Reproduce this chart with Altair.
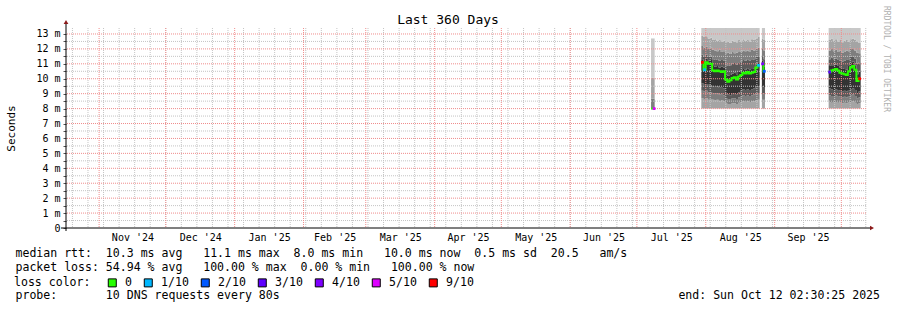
import altair as alt
import numpy as np
import pandas as pd

MONO = "DejaVu Sans Mono"

# ---------------- time window ----------------
range_start = "2024-10-17T02:30:25"
range_end = "2025-10-12T02:30:25"

# ---------------- measured runs ----------------
# S: short burst in early July
S_span = ["2025-07-07T09:00", "2025-07-09T00:00"]
S_median = [8.0, 8.0, 8.0]
S_loss = ["0", "0", "5/10"]
S_p2 = [8.0, 8.0, 8.0]
S_p3 = [8.0, 8.0, 8.0]
S_p4 = [8.0, 8.0, 8.0]
S_p5 = [8.0, 8.0, 8.0]
S_p6 = [8.0, 8.0, 8.0]
S_p7 = [8.0, 8.0, 8.0]
S_p8 = [8.67, 8.67, 8.67]
S_p9 = [10.07, 10.07, 10.07]
S_p10 = [12.7, 12.7, 12.7]

# A: end of July -> late August
A_span = ["2025-07-30T00:00", "2025-08-25T06:00"]
A_median = [11.1, 10.6, 11.1, 11.0, 11.0, 10.55, 10.5, 10.55, 10.5, 10.45, 10.5, 9.95, 9.8, 9.9,
            10.05, 10.1, 9.95, 10.15, 10.25, 10.4, 10.35, 10.45, 10.35, 10.4, 10.45, 10.75, 10.9]
A_loss = ["9/10", "1/10", "0", "0", "0", "0", "0", "0", "0", "0", "0", "0", "0", "0",
          "0", "0", "0", "0", "0", "0", "0", "0", "0", "0", "0", "0", "1/10"]
A_p2 = [8.0] * 27
A_p3 = [8.7, 8.65, 8.7, 8.6, 8.65, 8.6, 8.55, 8.6, 8.5, 8.55, 8.5, 8.35, 8.3, 8.3,
        8.35, 8.35, 8.3, 8.4, 8.45, 8.5, 8.45, 8.5, 8.45, 8.5, 8.5, 8.55, 8.6]
A_p4 = [9.2, 9.15, 9.2, 9.1, 9.1, 9.05, 9.0, 9.05, 8.95, 9.0, 8.9, 8.7, 8.65, 8.6,
        8.7, 8.7, 8.65, 8.75, 8.8, 8.9, 8.85, 8.9, 8.85, 8.9, 8.95, 9.0, 9.05]
A_p5 = [9.7, 9.6, 9.65, 9.6, 9.55, 9.5, 9.45, 9.5, 9.4, 9.45, 9.35, 9.0, 8.95, 8.9,
        9.0, 9.05, 8.95, 9.1, 9.2, 9.3, 9.25, 9.3, 9.25, 9.3, 9.35, 9.45, 9.5]
A_p6 = [11.3, 11.0, 11.35, 11.2, 11.25, 10.85, 10.8, 10.85, 10.75, 10.8, 10.75, 10.3, 10.2, 10.25,
        10.35, 10.4, 10.3, 10.45, 10.55, 10.65, 10.6, 10.7, 10.6, 10.65, 10.7, 11.0, 11.1]
A_p7 = [11.6, 11.5, 11.6, 11.5, 11.55, 11.3, 11.25, 11.3, 11.2, 11.25, 11.2, 10.9, 10.85, 10.9,
        11.0, 11.05, 10.95, 11.1, 11.15, 11.25, 11.2, 11.3, 11.2, 11.25, 11.3, 11.45, 11.5]
A_p8 = [12.2, 12.1, 12.15, 12.0, 12.1, 11.95, 11.9, 11.85, 11.95, 11.8, 11.85, 11.7, 11.75, 11.65,
        11.8, 11.7, 11.75, 11.85, 11.8, 11.9, 11.85, 11.9, 11.8, 11.95, 11.9, 12.0, 12.1]
A_p9 = [12.9, 12.8, 12.85, 12.7, 12.75, 12.6, 12.65, 12.55, 12.6, 12.5, 12.55, 12.45, 12.5, 12.4,
        12.55, 12.5, 12.45, 12.6, 12.5, 12.65, 12.55, 12.6, 12.5, 12.65, 12.6, 12.7, 12.8]
A_p10 = [14.0] * 27

# B: short run end of August
B_span = ["2025-08-26T06:00", "2025-08-27T16:00"]
B_median = [11.0, 10.5]
B_loss = ["4/10", "2/10"]
B_p2 = [8.0, 8.0]
B_p3 = [8.6, 8.6]
B_p4 = [9.05, 9.0]
B_p5 = [9.5, 9.45]
B_p6 = [11.2, 10.8]
B_p7 = [11.45, 11.3]
B_p8 = [12.0, 11.9]
B_p9 = [12.7, 12.6]
B_p10 = [14.0, 14.0]

# C: end of September -> October
C_span = ["2025-09-25T07:00", "2025-10-09T17:00"]
C_median = [10.45, 10.55, 10.6, 10.65, 10.55, 10.4, 10.35, 10.3, 10.25, 10.5, 10.75, 10.85, 10.6, 9.85, 10.0]
C_loss = ["3/10", "0", "0", "0", "0", "0", "0", "0", "0", "0", "0", "0", "0", "0", "9/10"]
C_p2 = [8.0] * 15
C_p3 = [8.45, 8.4, 8.45, 8.45, 8.4, 8.45, 8.35, 8.4, 8.35, 8.45, 8.45, 8.5, 8.4, 8.3, 8.35]
C_p4 = [8.9, 8.85, 8.85, 8.9, 8.8, 8.85, 8.75, 8.8, 8.75, 8.85, 8.9, 8.95, 8.85, 8.7, 8.75]
C_p5 = [9.35, 9.3, 9.25, 9.3, 9.2, 9.25, 9.15, 9.2, 9.15, 9.25, 9.3, 9.35, 9.25, 9.05, 9.15]
C_p6 = [10.85, 10.9, 10.9, 10.95, 10.85, 10.75, 10.7, 10.65, 10.6, 10.85, 11.05, 11.15, 10.9, 10.3, 10.5]
C_p7 = [11.3, 11.4, 11.3, 11.35, 11.25, 11.2, 11.15, 11.2, 11.25, 11.3, 11.45, 11.5, 11.35, 11.0, 11.1]
C_p8 = [11.9, 12.0, 11.85, 11.95, 11.8, 11.9, 11.75, 11.8, 11.9, 11.85, 12.0, 12.05, 11.9, 11.75, 11.7]
C_p9 = [12.6, 12.7, 12.55, 12.65, 12.5, 12.6, 12.45, 12.55, 12.6, 12.5, 12.65, 12.7, 12.6, 12.5, 12.4]
C_p10 = [14.0] * 15

# smoke band greys (between consecutive sorted pings)
band_names = ["b1", "b2", "b3", "b4", "b5", "b6", "b7", "b8"]
band_colors = ["#a4a4a4", "#7e7e7e", "#5a5a5a", "#333333", "#5a5a5a", "#7e7e7e", "#a4a4a4", "#c8c8c8"]

# loss colours
loss_labels = ["0", "1/10", "2/10", "3/10", "4/10", "5/10", "9/10"]
loss_colors = ["#26ff00", "#00b8ff", "#0059ff", "#5e00ff", "#7e00ff", "#dd00ff", "#ff0000"]

# y ticks
y_major = [1, 2, 3, 4, 5, 6, 7, 8, 9, 10, 11, 12, 13]
y_minor = [0.5, 1.5, 2.5, 3.5, 4.5, 5.5, 6.5, 7.5, 8.5, 9.5, 10.5, 11.5, 12.5]
y_ticks = [0, 0.5, 1, 1.5, 2, 2.5, 3, 3.5, 4, 4.5, 5, 5.5, 6, 6.5, 7, 7.5, 8, 8.5, 9, 9.5,
           10, 10.5, 11, 11.5, 12, 12.5, 13]

# legend texts
stats_line1 = "median rtt:  10.3 ms avg   11.1 ms max  8.0 ms min   10.0 ms now  0.5 ms sd  20.5   am/s"
stats_line2 = "packet loss: 54.94 % avg   100.00 % max  0.00 % min   100.00 % now"
probe_line = "probe:       10 DNS requests every 80s"
end_text = "end: Sun Oct 12 02:30:25 2025"
title_text = "Last 360 Days"
watermark = "RRDTOOL / TOBI OETIKER"

# ---------------- build tables ----------------
def ms(s):
    return pd.Timestamp(s, tz="UTC").value // 1_000_000

blocks = {
    "S": (S_span, S_median, S_loss, [S_p2, S_p3, S_p4, S_p5, S_p6, S_p7, S_p8, S_p9, S_p10]),
    "A": (A_span, A_median, A_loss, [A_p2, A_p3, A_p4, A_p5, A_p6, A_p7, A_p8, A_p9, A_p10]),
    "B": (B_span, B_median, B_loss, [B_p2, B_p3, B_p4, B_p5, B_p6, B_p7, B_p8, B_p9, B_p10]),
    "C": (C_span, C_median, C_loss, [C_p2, C_p3, C_p4, C_p5, C_p6, C_p7, C_p8, C_p9, C_p10]),
}

band_rows, line_rows, loss_rows = [], [], []
for seg, (span, med, loss, P) in blocks.items():
    n = len(med)
    edges = np.linspace(ms(span[0]), ms(span[1]), n + 1)
    for i in range(n + 1):
        j = min(i, n - 1)
        for k in range(8):
            band_rows.append({"t": edges[i], "lo": P[k][j], "hi": P[k + 1][j],
                              "band": band_names[k], "seg": seg + band_names[k]})
        line_rows.append({"t": edges[i], "m": med[j], "seg": seg})
    for i in range(n):
        if loss[i] != "0":
            loss_rows.append({"t": (edges[i] + edges[i + 1]) / 2, "m": med[i], "loss": loss[i]})

bands_df = pd.DataFrame(band_rows)
line_df = pd.DataFrame(line_rows)
loss_df = pd.DataFrame(loss_rows)

weeks = pd.date_range("2024-10-20", "2025-10-12", freq="7D", tz="UTC")
months = pd.date_range("2024-11-01", "2025-10-01", freq="MS", tz="UTC")
week_df = pd.DataFrame({"t": [w.value // 1_000_000 for w in weeks]})
month_df = pd.DataFrame({"t": [m.value // 1_000_000 for m in months]})
mid_month = [((months[i].value + months[i + 1].value) // 2) // 1_000_000 for i in range(len(months) - 1)]

xscale = alt.Scale(type="utc", domain=[ms(range_start), ms(range_end)])
yscale = alt.Scale(domain=[0, 13.4], nice=False, zero=False)

x_axis = alt.Axis(values=mid_month, labelExpr="utcFormat(datum.value, \"%b '%y\")",
                  grid=False, domain=False, ticks=False, labelFont=MONO, labelFontSize=10,
                  labelColor="#000000", labelPadding=9.5, labelBaseline="middle",
                  labelOverlap=False, labelFlush=False, title=None)
y_axis = alt.Axis(values=y_ticks,
                  labelExpr="datum.value % 1 != 0 ? '' : (datum.value == 0 ? '0' : datum.value + ' m')",
                  grid=False, domain=False, ticks=True, tickSize=3, tickColor="#555555",
                  labelFont=MONO, labelFontSize=10, labelColor="#000000", labelPadding=3,
                  title="Seconds", titleFont=MONO, titleFontSize=11, titleFontWeight="normal",
                  titleColor="#000000", titleX=-55, titleY=100, titleAlign="center",
                  titleBaseline="middle", titleAngle=270)

def X(field):
    return alt.X(field, scale=xscale, axis=x_axis)

def Y(field, **kw):
    return alt.Y(field, scale=yscale, axis=y_axis, **kw)

# ---------------- layers ----------------
bands = alt.Chart(bands_df).mark_area(interpolate="step-after", clip=True).encode(
    x=X("t:T"),
    y=Y("hi:Q", stack=None),
    y2="lo:Q",
    color=alt.Color("band:N", scale=alt.Scale(domain=band_names, range=band_colors), legend=None),
    detail="seg:N",
)

grid_week = alt.Chart(week_df).mark_rule(color="#c4c4c4", strokeDash=[1, 1], strokeWidth=1).encode(x=X("t:T"))
grid_yminor = alt.Chart(pd.DataFrame({"v": y_minor})).mark_rule(color="#c4c4c4", strokeDash=[1, 1]).encode(y=Y("v:Q"))
grid_month = alt.Chart(month_df).mark_rule(color="#f08c8c", strokeDash=[1, 1], strokeWidth=1).encode(x=X("t:T"))
grid_ymajor = alt.Chart(pd.DataFrame({"v": y_major})).mark_rule(color="#f08c8c", strokeDash=[1, 1]).encode(y=Y("v:Q"))

median_line = alt.Chart(line_df).mark_line(interpolate="step-after", color="#26ff00", strokeWidth=2).encode(
    x=X("t:T"), y=Y("m:Q"), detail="seg:N",
)

loss_marks = alt.Chart(loss_df).mark_square(size=8, filled=True, opacity=1).encode(
    x=X("t:T"),
    y=Y("m:Q"),
    color=alt.Color("loss:N", scale=alt.Scale(domain=loss_labels, range=loss_colors),
                    legend=alt.Legend(title="loss color:", orient="none", legendX=-52, legendY=249,
                                      direction="horizontal", titleOrient="left", titleFont=MONO,
                                      titleFontSize=11.55, titleFontWeight="normal", titleColor="#000000",
                                      titlePadding=15.5, labelFont=MONO, labelFontSize=11.55,
                                      labelColor="#000000", labelOffset=7, columnPadding=9,
                                      symbolType="square", symbolSize=64, symbolStrokeColor="#000000",
                                      symbolStrokeWidth=1, symbolOpacity=1, padding=0)),
)

one = pd.DataFrame({"a": [0]})
x_axis_line = alt.Chart(one).mark_rule(color="#000000", strokeWidth=1).encode(
    x=alt.value(-5), x2=alt.value(804), y=alt.value(200))
y_axis_line = alt.Chart(one).mark_rule(color="#000000", strokeWidth=1).encode(
    x=alt.value(0), y=alt.value(203), y2=alt.value(-4))
arrow_right = alt.Chart(one).mark_point(shape="triangle-right", filled=True, size=22, color="#8b1a1a", opacity=1).encode(
    x=alt.value(806), y=alt.value(200))
arrow_up = alt.Chart(one).mark_point(shape="triangle-up", filled=True, size=22, color="#8b1a1a", opacity=1).encode(
    x=alt.value(0), y=alt.value(-6))

def text_mark(txt, x, y, align="left", size=11.55, color="#000000", angle=0):
    df = pd.DataFrame({"txt": [txt.replace(" ", "\u00a0")]})
    return alt.Chart(df).mark_text(font=MONO, fontSize=size, align=align, baseline="middle",
                                   color=color, angle=angle).encode(
        x=alt.value(x), y=alt.value(y), text="txt:N")

line1 = text_mark(stats_line1, -50.5, 226)
line2 = text_mark(stats_line2, -50.5, 240)
line4 = text_mark(probe_line, -50.5, 268)
end_line = text_mark(end_text, 814, 268, align="right")
title = text_mark(title_text, 382, -8, align="center", size=13)
mark_wm = text_mark(watermark, 820, 31, align="center", size=8, color="#b0b0b0", angle=90)

chart = alt.layer(
    bands, grid_week, grid_yminor, grid_month, grid_ymajor, median_line, loss_marks,
    x_axis_line, y_axis_line, arrow_right, arrow_up, line1, line2, line4, end_line, title, mark_wm,
).resolve_scale(color="independent").properties(
    width=800, height=200,
    padding={"left": 66, "top": 28, "right": 31, "bottom": 82},
    autosize=alt.AutoSizeParams(type="none"),
    background="white",
).configure_view(stroke=None)

chart.save("out.html", embed_options={"renderer": "svg", "actions": False})
